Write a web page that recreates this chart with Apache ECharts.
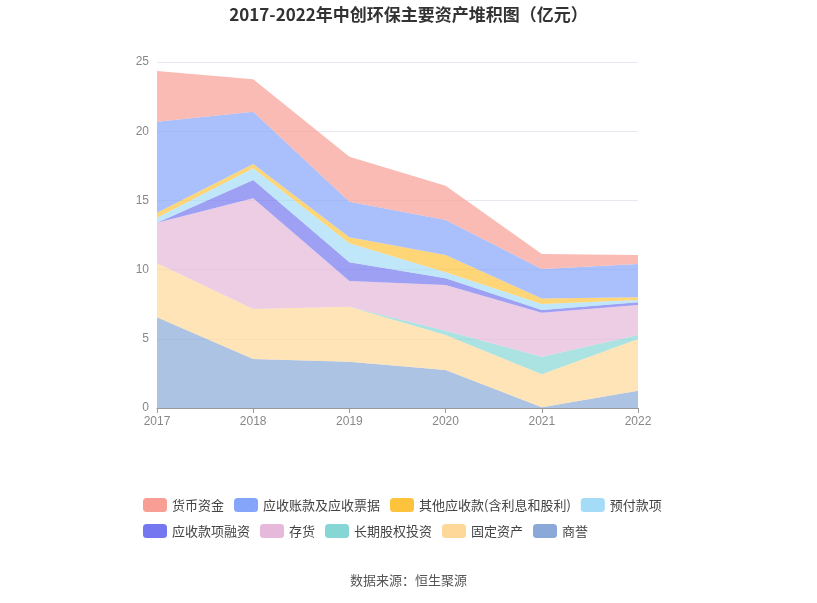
<!DOCTYPE html>
<html><head><meta charset="utf-8">
<script src="https://cdn.jsdelivr.net/npm/echarts@6/dist/echarts.min.js"></script>
<style>html,body{margin:0;padding:0;background:#fff}#c{width:817px;height:603px}</style>
</head><body><div id="c"></div>
<script>
const years = ['2017','2018','2019','2020','2021','2022'];
const goodwill = [6.55, 3.54, 3.35, 2.75, 0.05, 1.25];
const fixedAssets = [3.90, 3.61, 3.97, 2.52, 2.38, 3.74];
const ltEquity = [0, 0, 0, 0.32, 1.28, 0.28];
const inventory = [2.94, 8.00, 1.86, 3.30, 3.18, 2.17];
const receivableFin = [0, 1.32, 1.35, 0.48, 0.19, 0.20];
const prepayments = [0.36, 0.85, 1.37, 0.43, 0.43, 0.16];
const otherRecv = [0.36, 0.31, 0.43, 1.25, 0.41, 0.20];
const accountsRecv = [6.58, 3.78, 2.58, 2.53, 2.12, 2.40];
const cash = [3.66, 2.34, 3.25, 2.48, 1.09, 0.65];

const seriesDefs = [
  ['货币资金', cash, '#f89e95'],
  ['应收账款及应收票据', accountsRecv, '#85a5fb'],
  ['其他应收款(含利息和股利)', otherRecv, '#fec33d'],
  ['预付款项', prepayments, '#a4dcf7'],
  ['应收款项融资', receivableFin, '#7577f0'],
  ['存货', inventory, '#e6b8d9'],
  ['长期股权投资', ltEquity, '#87d6d6'],
  ['固定资产', fixedAssets, '#fed899'],
  ['商誉', goodwill, '#8aa9d8']
];
const stackOrder = seriesDefs.slice().reverse();
const chart = echarts.init(document.getElementById('c'));
chart.setOption({
  animation: false,
  title: [{
    text: '2017-2022年中创环保主要资产堆积图（亿元）', left: 'center', top: 1,
    textStyle: {fontSize: 17, fontWeight: 'bold', color: '#333', fontFamily: 'Noto Sans CJK SC'}
  }, {
    text: '数据来源：恒生聚源', left: 'center', top: 569,
    textStyle: {fontSize: 13, fontWeight: 'normal', color: '#555', fontFamily: 'Noto Sans CJK SC'}
  }],
  legend: {
    data: seriesDefs.map(s => s[0]),
    left: 138, top: 492, width: 540,
    itemWidth: 24, itemHeight: 14, itemGap: 10,
    icon: 'roundRect',
    textStyle: {fontSize: 13, lineHeight: 16, color: '#444', fontFamily: 'Noto Sans CJK SC'}
  },
  grid: {left: 157, right: 179, top: 62, bottom: 195},
  xAxis: {
    type: 'category', data: years, boundaryGap: false,
    axisLine: {lineStyle: {color: '#999'}},
    axisTick: {lineStyle: {color: '#999'}},
    axisLabel: {color: '#888', fontSize: 12}
  },
  yAxis: {
    type: 'value', min: 0, max: 25, interval: 5,
    axisLabel: {color: '#888', fontSize: 12},
    splitLine: {lineStyle: {color: '#e6e9f0'}}
  },
  series: stackOrder.map(s => ({
    name: s[0], type: 'line', stack: 'total', data: s[1],
    symbol: 'none', lineStyle: {width: 0},
    itemStyle: {color: s[2]},
    areaStyle: {color: s[2], opacity: 0.7}
  }))
});
</script></body></html>
